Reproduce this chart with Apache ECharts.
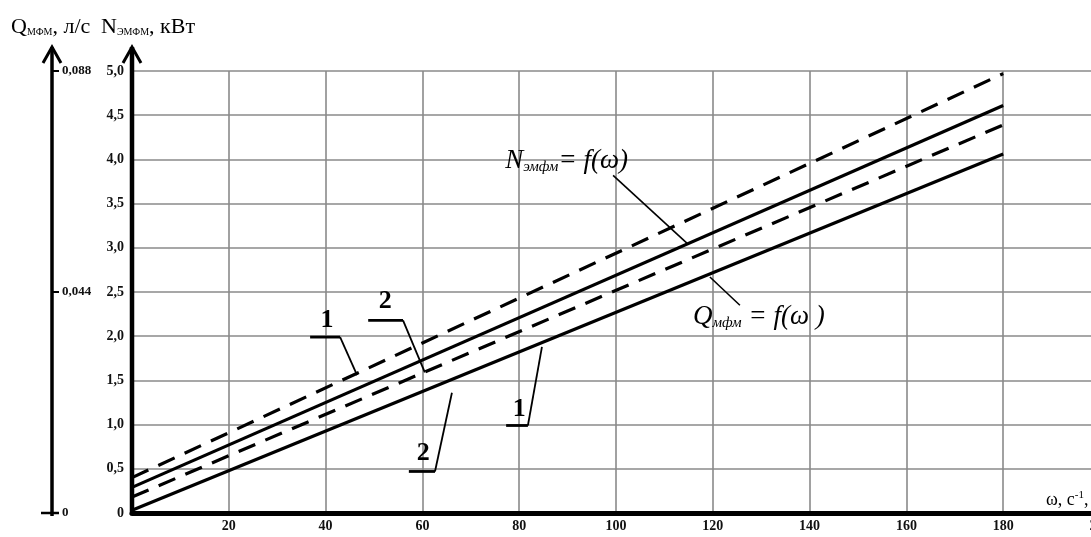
<!DOCTYPE html>
<html>
<head>
<meta charset="utf-8">
<script src="https://cdn.jsdelivr.net/npm/echarts@6/dist/echarts.min.js"></script>
<style>
  html, body { margin: 0; padding: 0; background: #fff; }
  #c { width: 1091px; height: 537px; }
</style>
</head>
<body>
<div id="c"></div>
<script>
// Angular speed, 1/s (end points of each straight characteristic)
const omega = [0, 180];
// Characteristics, kW scale
const dashedUpper = [0.40, 4.97];
const solidUpper  = [0.29, 4.61];
const dashedLower = [0.18, 4.39];
const solidLower  = [0.03, 4.06];
// Flow-rate scale ticks, l/s
const flowTicks = [0, 0.044, 0.088];

const SERIF = '"Liberation Serif", "DejaVu Serif", serif';
const comma = (v, d) => (v === 0 ? '0' : v.toFixed(d).replace('.', ','));
const pairs = arr => omega.map((w, i) => [w, arr[i]]);

const chart = echarts.init(document.getElementById('c'), null, { renderer: 'canvas' });

const gridLine = { show: true, lineStyle: { color: '#8a8a8a', width: 1.6 } };

function lineSeries(name, arr, dashed) {
  return {
    name, type: 'line', data: pairs(arr), symbol: 'none', silent: true,
    xAxisIndex: 0, yAxisIndex: 0,
    lineStyle: { color: '#000', width: 3.2, type: dashed ? [18, 11] : 'solid', cap: 'butt' }
  };
}

chart.setOption({
  animation: false,
  backgroundColor: '#fff',
  grid: { left: 132, top: 71, bottom: 24, right: -9, containLabel: false, outerBoundsMode: 'none' },
  xAxis: {
    type: 'value', min: 0, max: 200, interval: 20,
    axisLine: { show: true, lineStyle: { color: '#000', width: 5 } },
    axisTick: { show: false },
    splitLine: gridLine,
    axisLabel: {
      margin: 6, color: '#111', fontFamily: SERIF, fontSize: 14, fontWeight: 'bold',
      formatter: v => (v === 0 ? '' : String(v))
    }
  },
  yAxis: [
    {
      type: 'value', min: 0, max: 5, interval: 0.5, position: 'left',
      axisLine: { show: false }, axisTick: { show: false },
      splitLine: gridLine,
      axisLabel: { margin: 8, color: '#111', fontFamily: SERIF, fontSize: 14, fontWeight: 'bold',
        formatter: v => comma(v, 1) }
    },
    {
      type: 'value', min: flowTicks[0], max: flowTicks[flowTicks.length - 1],
      interval: flowTicks[1] - flowTicks[0], position: 'left', offset: 80,
      axisLine: { show: false },
      axisTick: { show: true, inside: true, length: 7, lineStyle: { color: '#000', width: 2 } },
      splitLine: { show: false },
      axisLabel: { inside: true, margin: 10, color: '#111', fontFamily: SERIF, fontSize: 13, fontWeight: 'bold',
        formatter: v => comma(v, 3) }
    }
  ],
  series: [
    lineSeries('dashedUpper', dashedUpper, true),
    lineSeries('solidUpper', solidUpper, false),
    lineSeries('dashedLower', dashedLower, true),
    lineSeries('solidLower', solidLower, false)
  ]
});

const px = (x, y) => chart.convertToPixel({ xAxisIndex: 0, yAxisIndex: 0 }, [x, y]);

function seg(a, b, w) {
  return { type: 'line', silent: true, z: 100,
    shape: { x1: a[0], y1: a[1], x2: b[0], y2: b[1] },
    style: { stroke: '#000', lineWidth: w, lineCap: 'butt' } };
}
function arrowAxis(x, yBottom, yTop, w) {
  return [
    seg([x, yBottom], [x, yTop], w),
    { type: 'polyline', silent: true, z: 100,
      shape: { points: [[x - 9, yTop + 16], [x, yTop], [x + 9, yTop + 16]] },
      style: { stroke: '#000', lineWidth: 3, fill: null, lineJoin: 'miter' } }
  ];
}
function text(x, y, rich, parts, extra) {
  return Object.assign({ type: 'text', silent: true, z: 110, x, y,
    style: { text: parts, rich, fill: '#000', fontFamily: SERIF, verticalAlign: 'middle' } }, extra || {});
}

// Numbered callout: label, underline, leader towards a characteristic
function callout(label, txt, u1, u2, tip) {
  const t = px(txt[0], txt[1]);
  const a = px(u1[0], u1[1]);
  const b = px(u2[0], u2[1]);
  const c = px(tip[0], tip[1]);
  return [
    { type: 'text', silent: true, z: 110, x: t[0], y: t[1],
      style: { text: label, fill: '#000', font: 'bold 26px ' + SERIF, align: 'center', verticalAlign: 'middle' } },
    seg(a, b, 2.8),
    seg(b, c, 1.8)
  ];
}

const origin = px(0, 0);
const top5 = px(0, 5);
const qx = origin[0] - 80;

const richTitle = {
  b: { fontFamily: SERIF, fontSize: 22, fill: '#000' },
  s: { fontFamily: SERIF, fontSize: 10, fill: '#000', padding: [11, 0, 0, 0] }
};
const richFormula = {
  b: { fontFamily: SERIF, fontSize: 27, fontStyle: 'italic', fill: '#000' },
  s: { fontFamily: SERIF, fontSize: 15, fontStyle: 'italic', fill: '#000', padding: [12, 0, 0, 0] }
};
const richOmega = {
  b: { fontFamily: SERIF, fontSize: 18, fill: '#000' },
  s: { fontFamily: SERIF, fontSize: 11, fill: '#000', padding: [0, 0, 10, 0] }
};

const nLead = [px(99.4, 3.82), px(114.7, 3.05)];
const qLead = [px(125.6, 2.35), px(119.4, 2.67)];

chart.setOption({
  graphic: [
    ...arrowAxis(origin[0], origin[1] + 2, top5[1] - 24, 4.5),
    ...arrowAxis(qx, origin[1] + 3, top5[1] - 24, 3.5),
    seg([qx - 11, origin[1]], [qx + 7, origin[1]], 2.5),
    text(11, 27, richTitle, '{b|Q}{s|МФМ}{b|, л/с}'),
    text(101, 27, richTitle, '{b|N}{s|ЭМФМ}{b|, кВт}'),
    text(1046, 500, richOmega, '{b|ω, с}{s|-1}{b|,}'),
    ...callout('1', [40.3, 2.18], [36.8, 1.99], [43.0, 1.99], [46.5, 1.56]),
    ...callout('2', [52.3, 2.40], [48.8, 2.18], [56.0, 2.18], [60.5, 1.59]),
    ...callout('1', [80.0, 1.17], [77.3, 0.99], [81.8, 0.99], [84.7, 1.88]),
    ...callout('2', [60.2, 0.67], [57.2, 0.47], [62.6, 0.47], [66.1, 1.36]),
    text(px(77.1, 0)[0], px(0, 3.98)[1], richFormula, '{b|N}{s|эмфм}{b|= f(ω)}'),
    seg(nLead[0], nLead[1], 1.6),
    text(px(115.9, 0)[0], px(0, 2.22)[1], richFormula, '{b|Q}{s|мфм}{b| = f(ω )}'),
    seg(qLead[0], qLead[1], 1.6)
  ]
});
</script>
</body>
</html>
